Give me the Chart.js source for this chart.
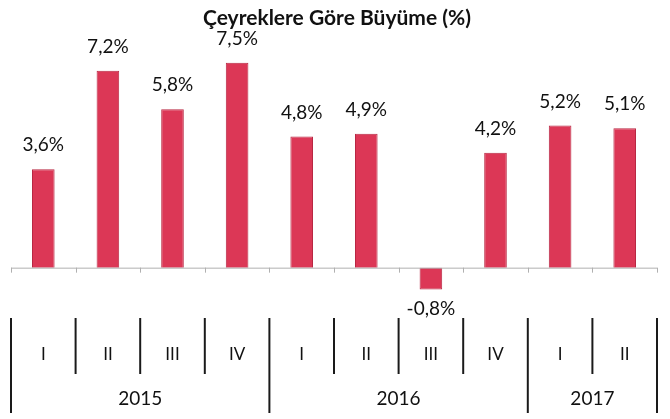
<!DOCTYPE html>
<html>
<head>
<meta charset="utf-8">
<script src="https://cdn.jsdelivr.net/npm/chart.js@4"></script>
<style>
  html, body { margin: 0; padding: 0; background: #fff; }
  #wrap { width: 670px; height: 419px; }
</style>
</head>
<body>
<div id="wrap"><canvas id="growthChart" width="670" height="419"></canvas></div>
<script>
// chart data
const quarters = ['I', 'II', 'III', 'IV', 'I', 'II', 'III', 'IV', 'I', 'II'];
const years = ['2015', '2016', '2017'];
const yearSpans = [4, 4, 2];
const growth = [3.6, 7.2, 5.8, 7.5, 4.8, 4.9, -0.8, 4.2, 5.2, 5.1];
const titleText = 'Çeyreklere Göre Büyüme (%)';

const FONT = 'Lato, "Open Sans", sans-serif';

function fmt(v) {
  return v.toFixed(1).replace('.', ',') + '%';
}

// draws title, value labels, axis line and the two-level category table
const decorPlugin = {
  id: 'decor',
  afterDatasetsDraw(chart) {
    const ctx = chart.ctx;
    const x = chart.scales.x;
    const y = chart.scales.y;
    const area = chart.chartArea;
    const zeroY = y.getPixelForValue(0);
    const step = x.getPixelForValue(1) - x.getPixelForValue(0);

    ctx.save();
    // title
    ctx.fillStyle = '#111';
    ctx.font = 'bold 21px ' + FONT;
    ctx.textAlign = 'center';
    ctx.textBaseline = 'middle';
    ctx.fillText(titleText, 337, 18);

    // axis line
    ctx.strokeStyle = '#b0b0b0';
    ctx.lineWidth = 1;
    ctx.beginPath();
    ctx.moveTo(area.left, zeroY + 0.5);
    ctx.lineTo(area.right, zeroY + 0.5);
    for (let i = 0; i <= quarters.length; i++) {
      const bx = Math.round(x.getPixelForValue(i) - step / 2) + 0.5;
      ctx.moveTo(bx, zeroY);
      ctx.lineTo(bx, zeroY + 5);
    }
    ctx.stroke();

    // value labels
    ctx.font = '19px ' + FONT;
    ctx.fillStyle = '#111';
    const meta = chart.getDatasetMeta(0);
    meta.data.forEach((bar, i) => {
      const v = growth[i];
      if (v >= 0) {
        ctx.fillText(fmt(v), bar.x, bar.y - 24);
      } else {
        ctx.fillText(fmt(v), bar.x, bar.y + 19);
      }
    });

    // category table
    ctx.strokeStyle = '#1a1a1a';
    ctx.lineWidth = 2;
    const yearBounds = [0];
    let acc = 0;
    yearSpans.forEach(s => { acc += s; yearBounds.push(acc); });
    for (let i = 0; i <= quarters.length; i++) {
      const bx = x.getPixelForValue(i) - step / 2;
      const isYear = yearBounds.includes(i);
      ctx.beginPath();
      ctx.moveTo(bx, 318);
      ctx.lineTo(bx, isYear ? 413 : 374);
      ctx.stroke();
    }
    ctx.font = '17px ' + FONT;
    quarters.forEach((q, i) => {
      ctx.fillText(q, x.getPixelForValue(i), 355);
    });
    ctx.font = '19px ' + FONT;
    years.forEach((yr, k) => {
      const a = yearBounds[k], b = yearBounds[k + 1];
      const cx = (x.getPixelForValue(a) + x.getPixelForValue(b - 1)) / 2;
      ctx.fillText(yr, cx, 399);
    });
    ctx.restore();
  }
};

new Chart(document.getElementById('growthChart').getContext('2d'), {
  type: 'bar',
  data: {
    labels: quarters.map((q, i) => q + i),
    datasets: [{
      data: growth,
      backgroundColor: '#dc3756',
      borderColor: '#b82843',
      borderWidth: 1,
      categoryPercentage: 1,
      barPercentage: 0.35
    }]
  },
  options: {
    responsive: false,
    animation: false,
    layout: { padding: { top: 49, bottom: 124, left: 11, right: 13 } },
    plugins: {
      legend: { display: false },
      title: { display: false },
      tooltip: { enabled: false }
    },
    scales: {
      x: { display: false },
      y: { display: false, min: -1, max: 8 }
    }
  },
  plugins: [decorPlugin]
});
</script>
</body>
</html>
